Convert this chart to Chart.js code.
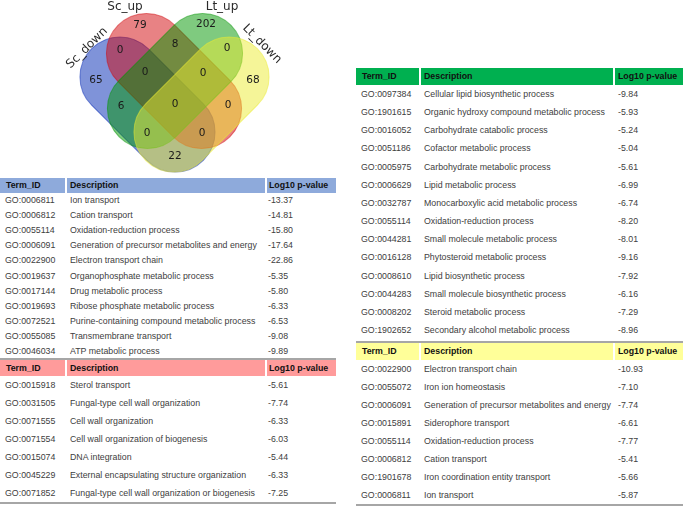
<!DOCTYPE html>
<html>
<head>
<meta charset="utf-8">
<script src="https://cdn.jsdelivr.net/npm/chart.js@4.4.1/dist/chart.umd.min.js"></script>
<style>
  body { margin: 0; width: 685px; height: 506px; position: relative; background: #fff; overflow: hidden;
         font-family: "Liberation Sans", Arial, sans-serif; }
  #vennBox { position: absolute; left: 0; top: 0; width: 340px; height: 178px; }
  .tbl { position: absolute; font-size: 8.8px; color: #404040; }
  .hdr { position: absolute; left: 0; right: 0; font-weight: bold; color: #111; }
  .row { position: absolute; left: 0; right: 0; }
  .cell { position: absolute; top: 0; white-space: nowrap; }
  .sep { position: absolute; top: 0; bottom: 0; width: 1.5px; background: #fff; }
  .rule { position: absolute; left: 0; right: 0; height: 2px; background: #a6a6a6; }
</style>
</head>
<body>
<div id="vennBox"><canvas id="venn" width="340" height="178"></canvas></div>
<div id="tables"></div>
<script>
// === Venn data ===
const setNames = ['Sc_down', 'Sc_up', 'Lt_up', 'Lt_down'];
const setColors = ['rgba(0,40,180,0.5)', 'rgba(210,5,10,0.5)', 'rgba(0,150,0,0.5)', 'rgba(235,235,50,0.5)'];
// region membership (Sc_down, Sc_up, Lt_up, Lt_down) and counts
const regionSets = ['1000', '0100', '0010', '0001', '1100', '0110', '0011', '1010', '1001', '0101',
                    '1110', '0111', '1011', '1101', '1111'];
const regionCounts = [65, 79, 202, 68, 0, 8, 0, 6, 22, 0, 0, 0, 0, 0, 0];
// where each count sits (diagram units)
const regionX = [96, 140, 206, 253, 120, 175, 227, 121, 175, 228, 145, 203, 147, 202, 175];
const regionY = [80, 25, 24, 80, 50, 44, 48, 106, 156, 105, 72, 73, 133, 133, 104];

// === GO tables ===
const scDownIds = ['GO:0006811', 'GO:0006812', 'GO:0055114', 'GO:0006091', 'GO:0022900', 'GO:0019637',
                   'GO:0017144', 'GO:0019693', 'GO:0072521', 'GO:0055085', 'GO:0046034'];
const scDownDesc = ['Ion transport', 'Cation transport', 'Oxidation-reduction process',
                    'Generation of precursor metabolites and energy', 'Electron transport chain',
                    'Organophosphate metabolic process', 'Drug metabolic process', 'Ribose phosphate metabolic process',
                    'Purine-containing compound metabolic process', 'Transmembrane transport', 'ATP metabolic process'];
const scDownP = [-13.37, -14.81, -15.80, -17.64, -22.86, -5.35, -5.80, -6.33, -6.53, -9.08, -9.89];

const scUpIds = ['GO:0015918', 'GO:0031505', 'GO:0071555', 'GO:0071554', 'GO:0015074', 'GO:0045229', 'GO:0071852'];
const scUpDesc = ['Sterol transport', 'Fungal-type cell wall organization', 'Cell wall organization',
                  'Cell wall organization of biogenesis', 'DNA integration', 'External encapsulating structure organization',
                  'Fungal-type cell wall organization or biogenesis'];
const scUpP = [-5.61, -7.74, -6.33, -6.03, -5.44, -6.33, -7.25];

const ltUpIds = ['GO:0097384', 'GO:1901615', 'GO:0016052', 'GO:0051186', 'GO:0005975', 'GO:0006629', 'GO:0032787',
                 'GO:0055114', 'GO:0044281', 'GO:0016128', 'GO:0008610', 'GO:0044283', 'GO:0008202', 'GO:1902652'];
const ltUpDesc = ['Cellular lipid biosynthetic process', 'Organic hydroxy compound metabolic process',
                  'Carbohydrate catabolic process', 'Cofactor metabolic process', 'Carbohydrate metabolic process',
                  'Lipid metabolic process', 'Monocarboxylic acid metabolic process', 'Oxidation-reduction process',
                  'Small molecule metabolic process', 'Phytosteroid metabolic process', 'Lipid biosynthetic process',
                  'Small molecule biosynthetic process', 'Steroid metabolic process', 'Secondary alcohol metabolic process'];
const ltUpP = [-9.84, -5.93, -5.24, -5.04, -5.61, -6.99, -6.74, -8.20, -8.01, -9.16, -7.92, -6.16, -7.29, -8.96];

const ltDownIds = ['GO:0022900', 'GO:0055072', 'GO:0006091', 'GO:0015891', 'GO:0055114', 'GO:0006812', 'GO:1901678', 'GO:0006811'];
const ltDownDesc = ['Electron transport chain', 'Iron ion homeostasis', 'Generation of precursor metabolites and energy',
                    'Siderophore transport', 'Oxidation-reduction process', 'Cation transport',
                    'Iron coordination entity transport', 'Ion transport'];
const ltDownP = [-10.93, -7.10, -7.74, -6.61, -7.77, -5.41, -5.66, -5.87];

const headers = ['Term_ID', 'Description', 'Log10 p-value'];

// === Venn drawing ===
// stadium shapes: centre, axis angle (canvas degrees), half straight length, cap radius
const shapes = [
  { cx: 147.5, cy: 104.5, ang: 45 },
  { cx: 174, cy: 81, ang: 45 },
  { cx: 175, cy: 81, ang: -45 },
  { cx: 201.5, cy: 104.5, ang: -45 }
];
const halfLen = 39, capR = 40;

function stadium(ctx, x, y, u) {
  // u = pixels per diagram unit
  const L = halfLen * u, r = capR * u;
  ctx.beginPath();
  ctx.arc(x + L, y, r, -Math.PI / 2, Math.PI / 2);
  ctx.arc(x - L, y, r, Math.PI / 2, Math.PI * 3 / 2);
  ctx.closePath();
}

const vennPlugin = {
  id: 'venn',
  beforeDatasetsDraw(chart) {
    const { ctx, scales: { x, y } } = chart;
    const u = x.getPixelForValue(1) - x.getPixelForValue(0);
    ctx.save();
    shapes.forEach((s, i) => {
      ctx.save();
      ctx.translate(x.getPixelForValue(s.cx), y.getPixelForValue(s.cy));
      ctx.rotate(s.ang * Math.PI / 180);
      stadium(ctx, 0, 0, u);
      ctx.fillStyle = setColors[i];
      ctx.fill();
      ctx.strokeStyle = setColors[i];
      ctx.lineWidth = 1;
      ctx.stroke();
      ctx.restore();
    });

    // counts
    ctx.fillStyle = '#1a1a1a';
    ctx.font = '10.5px "DejaVu Sans"';
    ctx.textAlign = 'center';
    ctx.textBaseline = 'middle';
    regionCounts.forEach((c, i) => {
      ctx.fillText(String(c), x.getPixelForValue(regionX[i]), y.getPixelForValue(regionY[i]));
    });

    // set names
    ctx.fillStyle = '#2a2a2a';
    ctx.font = '12px "DejaVu Sans"';
    const namePos = [[87, 48, -45], [125, 7, 0], [222, 7, 0], [262, 44, 45]];
    namePos.forEach((p, i) => {
      ctx.save();
      ctx.translate(x.getPixelForValue(p[0]), y.getPixelForValue(p[1]));
      ctx.rotate(p[2] * Math.PI / 180);
      ctx.fillText(setNames[i], 0, 0);
      ctx.restore();
    });
    ctx.restore();
  }
};

new Chart(document.getElementById('venn'), {
  type: 'scatter',
  data: {
    datasets: [{
      data: regionCounts.map((c, i) => ({ x: regionX[i], y: regionY[i] })),
      pointRadius: 0
    }]
  },
  options: {
    responsive: false,
    animation: false,
    layout: { padding: 0 },
    plugins: { legend: { display: false }, tooltip: { enabled: false } },
    scales: {
      x: { display: false, min: 0, max: 340 },
      y: { display: false, min: 0, max: 178, reverse: true }
    }
  },
  plugins: [vennPlugin]
});

// === Tables ===
const holder = document.getElementById('tables');

function addTable(t) {
  const box = document.createElement('div');
  box.className = 'tbl';
  box.style.left = t.left + 'px';
  box.style.top = t.top + 'px';
  box.style.width = t.width + 'px';
  box.style.height = (t.headH + t.ids.length * t.rowH) + 'px';

  if (t.ruleTop !== undefined) {
    const r = document.createElement('div');
    r.className = 'rule';
    r.style.top = t.ruleTop + 'px';
    box.appendChild(r);
  }

  const hdr = document.createElement('div');
  hdr.className = 'hdr';
  hdr.style.top = '0px';
  hdr.style.height = t.headH + 'px';
  hdr.style.lineHeight = t.headH + 'px';
  hdr.style.background = t.color;
  headers.forEach((h, j) => {
    const c = document.createElement('div');
    c.className = 'cell';
    c.style.left = t.hx[j] + 'px';
    c.textContent = h;
    hdr.appendChild(c);
  });
  t.seps.forEach(s => {
    const d = document.createElement('div');
    d.className = 'sep';
    d.style.left = s + 'px';
    hdr.appendChild(d);
  });
  box.appendChild(hdr);

  t.ids.forEach((id, i) => {
    const row = document.createElement('div');
    row.className = 'row';
    row.style.top = (t.headH + i * t.rowH) + 'px';
    row.style.height = t.rowH + 'px';
    row.style.lineHeight = t.rowH + 'px';
    [id, t.desc[i], t.vals[i].toFixed(2)].forEach((txt, j) => {
      const c = document.createElement('div');
      c.className = 'cell';
      c.style.left = t.cx[j] + 'px';
      c.textContent = txt;
      row.appendChild(c);
    });
    box.appendChild(row);
  });

  if (t.ruleBottom !== undefined) {
    const r = document.createElement('div');
    r.className = 'rule';
    r.style.top = t.ruleBottom + 'px';
    box.appendChild(r);
  }
  holder.appendChild(box);
}

addTable({ left: 0, top: 178, width: 336, headH: 15, rowH: 15.1, color: '#8eaadb',
           hx: [6, 70, 269], cx: [5, 70, 268], seps: [65, 265],
           ids: scDownIds, desc: scDownDesc, vals: scDownP });
addTable({ left: 0, top: 359.5, width: 336, headH: 16.5, rowH: 18, color: '#ff9b9b',
           hx: [6, 70, 269], cx: [5, 70, 268], seps: [65, 265], ruleTop: -1.5, ruleBottom: 142.5,
           ids: scUpIds, desc: scUpDesc, vals: scUpP });
addTable({ left: 356, top: 67.5, width: 327, headH: 17.5, rowH: 18.15, color: '#00b050',
           hx: [6, 68, 262], cx: [5, 68, 262], seps: [63, 257],
           ids: ltUpIds, desc: ltUpDesc, vals: ltUpP });
addTable({ left: 356, top: 343, width: 327, headH: 17, rowH: 18, color: '#ffff99',
           hx: [6, 68, 262], cx: [5, 68, 262], seps: [63, 257], ruleTop: -2, ruleBottom: 161,
           ids: ltDownIds, desc: ltDownDesc, vals: ltDownP });
</script>
</body>
</html>
